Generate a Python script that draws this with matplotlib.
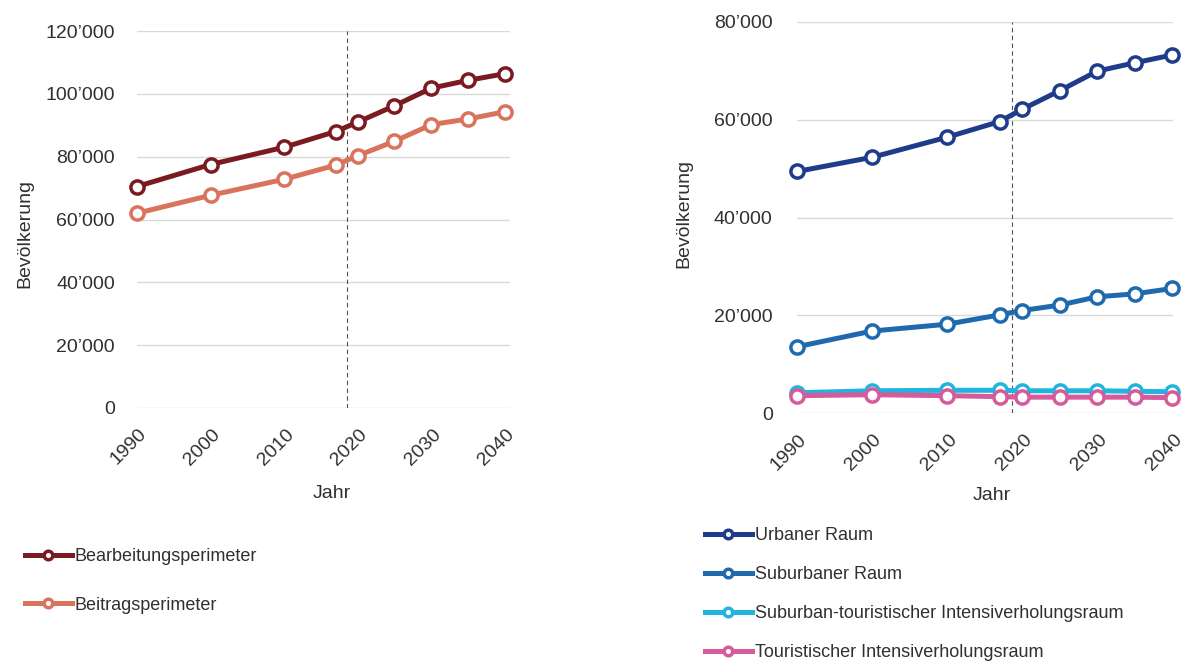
import matplotlib
matplotlib.use("Agg")
import matplotlib.pyplot as plt
import matplotlib.transforms as mtransforms
from matplotlib.ticker import FuncFormatter, MultipleLocator

plt.rcParams['font.family'] = ['Liberation Sans', 'DejaVu Sans']

# ---------------- data ----------------
years = [1990, 2000, 2010, 2017, 2020, 2025, 2030, 2035, 2040]
split_year = 2018.6

left_labels = ["Bearbeitungsperimeter", "Beitragsperimeter"]
bearbeitung = [70500, 77500, 83000, 88000, 91000, 96200, 101800, 104300, 106400]
beitrag = [62000, 67700, 72800, 77300, 80300, 84900, 90200, 92000, 94300]

right_labels = ["Urbaner Raum", "Suburbaner Raum",
                "Suburban-touristischer Intensiverholungsraum",
                "Touristischer Intensiverholungsraum"]
urban = [49400, 52300, 56400, 59600, 62100, 65900, 69900, 71600, 73200]
suburban = [13600, 16800, 18200, 20100, 21000, 22100, 23800, 24400, 25500]
sub_tour = [4200, 4600, 4700, 4700, 4600, 4600, 4600, 4500, 4400]
tour = [3600, 3800, 3600, 3400, 3300, 3300, 3300, 3300, 3200]

left_colors = ["#7a1b22", "#d9735b"]
right_colors = ["#1f3c8a", "#1f6aae", "#20b4df", "#d75a9b"]

xticks = [1990, 2000, 2010, 2020, 2030, 2040]
text_color = "#303030"
fs_tick = 14
fs_leg = 13

fig = plt.figure(figsize=(11.96, 6.61), dpi=100)

ax1 = fig.add_axes([137/1196, 1-408/661, (510-137)/1196, (408-31)/661])
ax2 = fig.add_axes([797/1196, 1-413.3/661, (1173-797)/1196, (413.3-21.7)/661])

fmt = FuncFormatter(lambda v, p: "0" if v == 0 else f"{int(v):,}".replace(",", "’"))


def style(ax, ymax, ystep, xmax, ypad):
    ax.set_xlim(1990, xmax)
    ax.set_ylim(0, ymax)
    ax.yaxis.set_major_locator(MultipleLocator(ystep))
    ax.yaxis.set_major_formatter(fmt)
    ax.set_xticks(xticks)
    ax.set_xticklabels([str(x) for x in xticks])
    for s in ax.spines.values():
        s.set_visible(False)
    ax.grid(axis='y', color='#d9d9d9', linewidth=1.0)
    ax.set_axisbelow(True)
    ax.tick_params(axis='both', length=0, labelsize=fs_tick, colors=text_color)
    ax.tick_params(axis='y', pad=ypad)
    ax.tick_params(axis='x', pad=17)
    offset = mtransforms.ScaledTranslation(7/100, 0, fig.dpi_scale_trans)
    for lab in ax.get_xticklabels():
        lab.set_rotation(45)
        lab.set_ha('right')
        lab.set_va('center')
        lab.set_rotation_mode('anchor')
        lab.set_transform(lab.get_transform() + offset)
    ax.axvline(split_year, color='#505050', linestyle=(0, (4, 3)), linewidth=0.8, zorder=1)
    ax.set_ylabel("Bevölkerung", fontsize=fs_tick, color=text_color)
    ax.set_xlabel("Jahr", fontsize=fs_tick, color=text_color)


def plot_series(ax, data, color, label):
    return ax.plot(years, data, color=color, linewidth=3.6, marker='o',
                   markersize=9.5, markerfacecolor='white', markeredgecolor=color,
                   markeredgewidth=2.5, label=label, clip_on=False, zorder=3)[0]


h_left = [plot_series(ax1, d, c, l) for d, c, l in
          zip([bearbeitung, beitrag], left_colors, left_labels)]
h_right = [plot_series(ax2, d, c, l) for d, c, l in
           zip([urban, suburban, sub_tour, tour], right_colors, right_labels)]

style(ax1, 120000, 20000, 2040.7, 16)
style(ax2, 80000, 20000, 2040.1, 17.5)

ax1.yaxis.set_label_coords(-0.279, 0.464)
ax1.xaxis.set_label_coords(0.523, -0.204)
ax2.yaxis.set_label_coords(-0.277, 0.51)
ax2.xaxis.set_label_coords(0.519, -0.188)

fig.legend(handles=h_left, loc='upper left', bbox_to_anchor=(25/1196, 1-548/661),
           frameon=False, fontsize=fs_leg, handlelength=2.6, handletextpad=0.15,
           labelspacing=1.75, borderpad=0, borderaxespad=0, markerscale=0.65,
           labelcolor=text_color)
fig.legend(handles=h_right, loc='upper left', bbox_to_anchor=(705/1196, 1-527/661),
           frameon=False, fontsize=fs_leg, handlelength=2.6, handletextpad=0.15,
           labelspacing=1.22, borderpad=0, borderaxespad=0, markerscale=0.65,
           labelcolor=text_color)

fig.savefig("out.png", dpi=100)
